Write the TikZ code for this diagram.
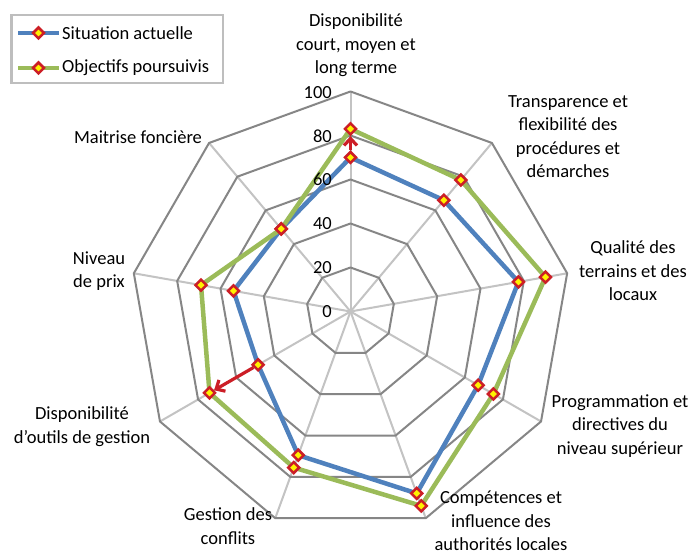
\documentclass[tikz,border=0pt]{standalone}
\usepackage{fontspec}
\setmainfont{Carlito}
\usetikzlibrary{arrows.meta,shapes.geometric}
\definecolor{gridc}{RGB}{134,134,134}
\definecolor{axisc}{RGB}{195,195,195}
\definecolor{legc}{RGB}{190,190,190}
\definecolor{serA}{RGB}{79,129,189}
\definecolor{serB}{RGB}{155,187,89}
\definecolor{mkred}{RGB}{204,30,38}
\begin{document}
\begin{tikzpicture}[x=1pt,y=1pt,
  lab/.style={align=center,font=\fontsize{18.5}{23.5}\selectfont,inner sep=0pt},
  tick/.style={anchor=east,font=\fontsize{18.5}{22}\selectfont,inner sep=0pt},
  gridline/.style={draw=gridc,line width=2,line join=round},
  axisline/.style={draw=axisc,line width=2},
  serie/.style={line width=4.5,line join=round},
  mk/.style={diamond,draw=mkred,fill=yellow,line width=2.5,minimum size=12,inner sep=0pt},
  redarrow/.style={draw=mkred,line width=3.2,-{Straight Barb[length=7,width=13]}}]
\useasboundingbox (0,0) rectangle (697,556);
\fill[white] (0,0) rectangle (697,556);
\begin{scope}[shift={(350.5,244.5)}]
  \coordinate (O) at (0,0);
  % axes
  \foreach \a [count=\i from 0] in {90,50,10,-30,-70,-110,-150,-190,-230}
    \draw[axisline] (O) -- (\a:220) coordinate (ax\i);
  % grid polygons
  \foreach \r in {44,88,132,176,220}
    \draw[gridline] (90:\r) -- (50:\r) -- (10:\r) -- (-30:\r) -- (-70:\r) -- (-110:\r) -- (-150:\r) -- (-190:\r) -- (-230:\r) -- cycle;
  % data points
  \foreach \a/\v [count=\i from 0] in {90/70,50/66,10/77.5,-30/67,-70/88,-110/69.5,-150/48.5,-190/54,-230/49}
    \coordinate (a\i) at (\a:{2.2*\v});
  \foreach \a/\v [count=\i from 0] in {90/83,50/78,10/90,-30/75,-70/94,-110/75.5,-150/74,-190/69,-230/49}
    \coordinate (b\i) at (\a:{2.2*\v});
  \draw[serA,serie] (a0) -- (a1) -- (a2) -- (a3) -- (a4) -- (a5) -- (a6) -- (a7) -- (a8) -- cycle;
  \draw[serB,serie] (b0) -- (b1) -- (b2) -- (b3) -- (b4) -- (b5) -- (b6) -- (b7) -- (b8) -- cycle;
  \foreach \i in {0,...,8} \node[mk] (ma\i) at (a\i) {};
  \foreach \i in {0,...,8} \node[mk] (mb\i) at (b\i) {};
  \draw[redarrow] (ma0) -- (mb0);
  \draw[redarrow] (ma6) -- (mb6);
\end{scope}
% tick labels
\node[tick] (t0) at (332,556-311.5) {0};
\node[tick] (t20) at (332,556-267.5) {20};
\node[tick] (t40) at (332,556-223.5) {40};
\node[tick] (t60) at (332,556-179.5) {60};
\node[tick] (t80) at (332,556-136) {80};
\node[tick] (t100) at (332,556-92.5) {100};
% axis labels
\node[lab] (l0) at (356,510.5) {Disponibilité\\court, moyen et\\long terme};
\node[lab] (l1) at (568,419.5) {Transparence et\\flexibilité des\\procédures et\\démarches};
\node[lab] (l2) at (633,285) {Qualité des\\terrains et des\\locaux};
\node[lab] (l3) at (620,130) {Programmation et\\directives du\\niveau supérieur};
\node[lab] (l4) at (501,35) {Compétences et\\influence des\\authorités locales};
\node[lab] (l5) at (228,30) {Gestion des\\conflits};
\node[lab] (l6) at (82,129.5) {Disponibilité\\d'outils de gestion};
\node[lab] (l7) at (99,285) {Niveau\\de prix};
\node[lab] (l8) at (138,419) {Maitrise foncière};
% legend
\draw[draw=legc,line width=2.5] (11.5,556-15) rectangle (223,556-83);
\coordinate (la1) at (18,523);
\coordinate (la2) at (59,523);
\coordinate (lb1) at (18,488);
\coordinate (lb2) at (59,488);
\draw[serA,serie] (la1) -- (la2);
\draw[serB,serie] (lb1) -- (lb2);
\node[mk] (lma) at (38.5,523) {};
\node[mk] (lmb) at (38.5,488) {};
\node[lab,anchor=west] (lta) at (62,523) {Situation actuelle};
\node[lab,anchor=west] (ltb) at (62,488) {Objectifs poursuivis};
\end{tikzpicture}
\end{document}
